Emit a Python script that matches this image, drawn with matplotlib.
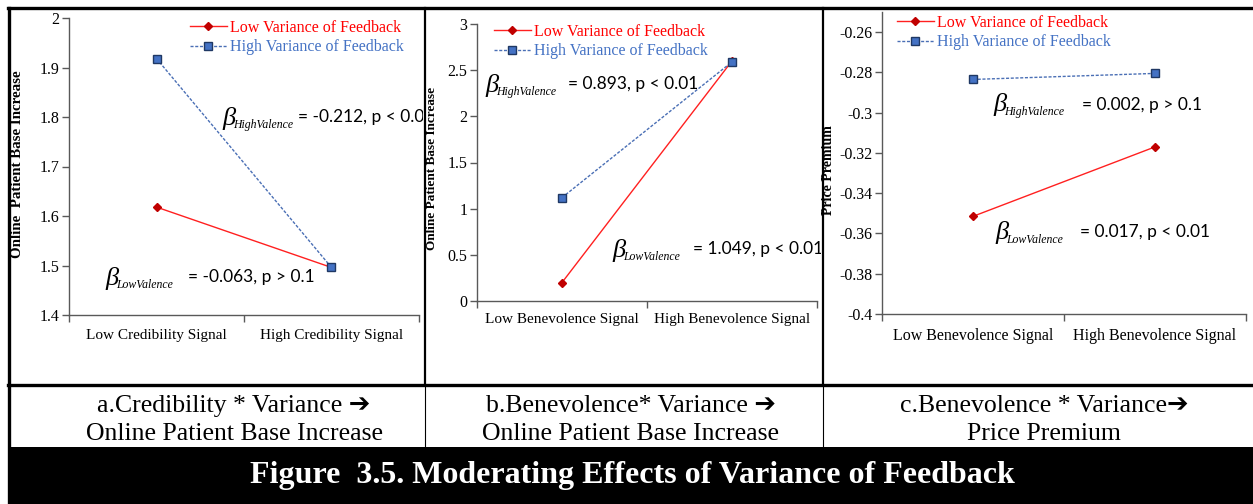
import matplotlib
matplotlib.use("Agg")
import matplotlib.pyplot as plt
from matplotlib.lines import Line2D
from matplotlib.patches import Rectangle
from matplotlib.transforms import Bbox

W, H = 1253, 504
DPI = 100

# ---------------- data ----------------
legend_labels = ["Low Variance of Feedback", "High Variance of Feedback"]

cats_a = ["Low Credibility Signal", "High Credibility Signal"]
low_a = [1.618, 1.496]
high_a = [1.918, 1.496]

cats_b = ["Low Benevolence Signal", "High Benevolence Signal"]
low_b = [0.20, 2.60]
high_b = [1.12, 2.59]

cats_c = ["Low Benevolence Signal", "High Benevolence Signal"]
low_c = [-0.3515, -0.317]
high_c = [-0.2835, -0.2805]

yticks_a = [1.4, 1.5, 1.6, 1.7, 1.8, 1.9, 2.0]
ytick_labels_a = ["1.4", "1.5", "1.6", "1.7", "1.8", "1.9", "2"]
yticks_b = [0, 0.5, 1, 1.5, 2, 2.5, 3]
ytick_labels_b = ["0", "0.5", "1", "1.5", "2", "2.5", "3"]
yticks_c = [-0.4, -0.38, -0.36, -0.34, -0.32, -0.3, -0.28, -0.26]
ytick_labels_c = ["-0.4", "-0.38", "-0.36", "-0.34", "-0.32", "-0.3", "-0.28", "-0.26"]

ylabels = ["Online  Patient Base Increase", "Online Patient Base Increase", "Price Premium"]

ann_high = ["= -0.212, p < 0.01", "= 0.893, p < 0.01", "= 0.002, p > 0.1"]
ann_low = ["= -0.063, p > 0.1", "= 1.049, p < 0.01", "= 0.017, p < 0.01"]

captions = [("a.Credibility * Variance \u2794", "Online Patient Base Increase"),
            ("b.Benevolence* Variance \u2794", "Online Patient Base Increase"),
            ("c.Benevolence * Variance\u2794", "Price Premium")]
title = "Figure  3.5. Moderating Effects of Variance of Feedback"

# ---------------- style ----------------
SERIF = "Liberation Serif"
SANS = "Lato"
RED = "#FF2020"
RED_M = "#C00000"
BLUE = "#4A6FB5"
BLUE_M = "#4472C4"
BLUE_E = "#1F3864"
AXC = "#595959"

fig = plt.figure(figsize=(W / DPI, H / DPI), dpi=DPI)
fig.patch.set_facecolor("white")


def fx(x):
    return x / W


def fy(y):
    return 1 - y / H


def add_ax(l, t, r, b):
    return fig.add_axes([fx(l), fy(b), (r - l) / W, (b - t) / H])


panels = [
    dict(box=(69, 18, 419, 315), cats=cats_a, low=low_a, high=high_a,
         yt=yticks_a, ytl=ytick_labels_a, ylim=(1.4, 2.0),
         leg=(190, 20), ylab_x=18, ylab_y=164, ylab_fs=10.8,
         hb=(222, 118), ht=(298, 117), lb=(105, 278), lt=(188, 277), clipx=(8, 425),
         capx=234, catfs=11, catpad=10),
    dict(box=(477, 24, 817, 301), cats=cats_b, low=low_b, high=high_b,
         yt=yticks_b, ytl=ytick_labels_b, ylim=(0, 3),
         leg=(494, 24), ylab_x=432, ylab_y=168, ylab_fs=9.5,
         hb=(485, 85), ht=(568, 84), lb=(612, 250), lt=(693, 249), clipx=(425, 823),
         capx=631, catfs=11, catpad=9),
    dict(box=(882, 12, 1246, 314), cats=cats_c, low=low_c, high=high_c,
         yt=yticks_c, ytl=ytick_labels_c, ylim=(-0.4, -0.25),
         leg=(897, 15), ylab_x=829, ylab_y=170, ylab_fs=10,
         hb=(993, 105), ht=(1082, 105), lb=(995, 233), lt=(1080, 232), clipx=(823, 1253),
         capx=1044, catfs=11.5, catpad=10),
]

xpos = [0.5, 1.5]

for i, p in enumerate(panels):
    ax = add_ax(*p["box"])
    ax.set_facecolor("none")
    ln_low, = ax.plot(xpos, p["low"], color=RED, lw=1.0, marker="D", ms=4.2,
                      mfc=RED_M, mec=RED_M, zorder=3)
    ln_high, = ax.plot(xpos, p["high"], color=BLUE, lw=1.0, ls=(0, (2.2, 1.2)),
                       marker="s", ms=5.5, mfc=BLUE_M, mec=BLUE_E, mew=1.0, zorder=4)
    ax.set_xlim(0, 2)
    ax.set_ylim(*p["ylim"])
    ax.set_yticks(p["yt"])
    ax.set_yticklabels(p["ytl"], fontfamily=SERIF, fontsize=11.5)
    ax.set_xticks([0, 1, 2])
    ax.set_xticklabels([])
    ax.set_xticks(xpos, minor=True)
    ax.set_xticklabels(p["cats"], minor=True, fontfamily=SERIF, fontsize=p["catfs"])
    ax.tick_params(axis="x", which="major", direction="out", length=5, color=AXC, width=1)
    ax.tick_params(axis="x", which="minor", length=0, pad=p["catpad"])
    ax.tick_params(axis="y", direction="out", length=5, color=AXC, width=1, pad=2)
    for s in ("top", "right"):
        ax.spines[s].set_visible(False)
    for s in ("left", "bottom"):
        ax.spines[s].set_color(AXC)
        ax.spines[s].set_linewidth(1.0)

    lx, ly = p["leg"]
    leg = ax.legend([ln_low, ln_high], legend_labels, loc="upper left",
                    bbox_to_anchor=(fx(lx), fy(ly)), bbox_transform=fig.transFigure,
                    frameon=False, borderpad=0, borderaxespad=0, handlelength=2.3,
                    handletextpad=0.2, labelspacing=0.2,
                    prop=dict(family=SERIF, size=11.5))
    leg.get_texts()[0].set_color("#FF0000")
    leg.get_texts()[1].set_color(BLUE_M)

    fig.text(fx(p["ylab_x"]), fy(p["ylab_y"]), ylabels[i], rotation=90,
             ha="center", va="center", fontfamily=SERIF, fontweight="bold",
             fontsize=p["ylab_fs"])

    clip = Bbox([[p["clipx"][0], 0], [p["clipx"][1] - 2, H]])
    for (bx, by), (tx, ty), sub, txt in [
        (p["hb"], p["ht"], "HighValence", ann_high[i]),
        (p["lb"], p["lt"], "LowValence", ann_low[i]),
    ]:
        fig.text(fx(bx), fy(by), "\u03b2", fontfamily=SERIF, fontstyle="italic",
                 fontsize=19, ha="left", va="center")
        fig.text(fx(bx + 11), fy(by + 7), sub, fontfamily=SERIF, fontstyle="italic",
                 fontsize=8.5, ha="left", va="center")
        t = fig.text(fx(tx), fy(ty), txt, fontfamily=SANS, fontsize=12.5,
                     ha="left", va="center")
        t.set_clip_on(True)
        t.set_clip_box(clip)

    fig.text(fx(p["capx"]), fy(406), captions[i][0], fontfamily=[SERIF, "DejaVu Sans"],
             fontsize=18.5, ha="center", va="center")
    fig.text(fx(p["capx"]), fy(434), captions[i][1], fontfamily=SERIF,
             fontsize=18.5, ha="center", va="center")

# ---------------- frame lines ----------------
def hline(y, x0, x1, lw):
    fig.add_artist(Line2D([fx(x0), fx(x1)], [fy(y), fy(y)], color="black", lw=lw,
                          transform=fig.transFigure))


def vline(x, y0, y1, lw):
    fig.add_artist(Line2D([fx(x), fx(x)], [fy(y0), fy(y1)], color="black", lw=lw,
                          transform=fig.transFigure))


hline(8, 8, W, 2.4)
hline(385, 8, W, 2.4)
vline(9, 8, 504, 2.4)
vline(425, 8, 385, 1.6)
vline(823, 8, 385, 1.6)
vline(425, 385, 447, 0.8)
vline(823, 385, 447, 0.8)

fig.add_artist(Rectangle((fx(8), 0), 1 - fx(8), fy(447), facecolor="black",
                         edgecolor="none", transform=fig.transFigure))
fig.text(fx(632), fy(476), title, color="white", fontfamily=SERIF, fontweight="bold",
         fontsize=23, ha="center", va="center")

fig.savefig("out.png", dpi=DPI)
